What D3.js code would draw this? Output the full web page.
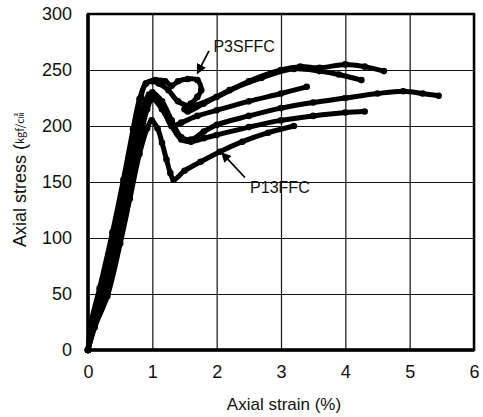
<!DOCTYPE html>
<html>
<head>
<meta charset="utf-8">
<script src="https://cdn.jsdelivr.net/npm/d3@7"></script>
<style>
  body { margin: 0; background: #fff; }
  svg { display: block; }
  text { font-family: "Liberation Sans", Arial, sans-serif; fill: #111; }
</style>
</head>
<body>
<svg id="chart" width="483" height="417"></svg>
<script>
// axis ticks
const strainTicks = [0, 1, 2, 3, 4, 5, 6];
const stressTicks = [0, 50, 100, 150, 200, 250, 300];

// curves (strain %, stress kgf/cm2)
const strainA = [0, 0.05, 0.18, 0.38, 0.55, 0.7, 0.8, 0.9, 1.0, 1.1, 1.25, 1.4, 1.6, 2.0, 2.5, 3.0, 3.3, 3.6, 4.0, 4.3, 4.6];
const stressA = [0, 25, 55, 105, 152, 197, 224, 238, 240, 238, 232, 222, 218, 226, 240, 250, 253, 252, 255, 253, 249];

const strainB = [0, 0.06, 0.22, 0.42, 0.58, 0.72, 0.82, 0.9, 1.05, 1.2, 1.3, 1.4, 1.55, 1.7, 1.76, 1.7, 1.6, 1.5, 1.55, 1.8, 2.2, 2.7, 3.2, 3.6, 3.9, 4.25];
const stressB = [0, 22, 50, 100, 148, 195, 225, 238, 241, 240, 236, 240, 242, 241, 232, 226, 220, 215, 213, 220, 232, 243, 251, 249, 246, 241];

const strainC = [0, 0.08, 0.25, 0.45, 0.6, 0.75, 0.85, 0.95, 1.1, 1.2, 1.3, 1.45, 1.7, 2.0, 2.5, 3.0, 3.4];
const stressC = [0, 22, 50, 100, 145, 190, 215, 228, 224, 212, 200, 203, 209, 214, 222, 229, 235];

const strainD = [0, 0.1, 0.28, 0.48, 0.63, 0.78, 0.9, 1.0, 1.15, 1.3, 1.45, 1.6, 1.8, 2.0, 2.5, 3.0, 3.5, 4.0, 4.5, 4.9, 5.2, 5.45];
const stressD = [0, 22, 50, 100, 145, 190, 220, 230, 222, 205, 190, 188, 195, 201, 209, 216, 221, 225, 229, 231, 229, 227];

const strainE = [0, 0.1, 0.3, 0.5, 0.65, 0.8, 0.92, 1.0, 1.15, 1.3, 1.45, 1.6, 1.8, 2.0, 2.5, 3.0, 3.5, 4.0, 4.3];
const stressE = [0, 20, 50, 100, 140, 185, 215, 224, 215, 200, 188, 186, 189, 192, 199, 205, 209, 212, 213];

// P13FFC
const strainF = [0, 0.1, 0.3, 0.5, 0.65, 0.8, 0.92, 0.99, 1.08, 1.15, 1.22, 1.28, 1.33, 1.5, 1.75, 2.05, 2.4, 2.8, 3.2];
const stressF = [0, 20, 48, 95, 135, 175, 198, 205, 198, 185, 170, 158, 152, 160, 168, 177, 186, 194, 200];

const series = [
  [strainA, stressA], [strainB, stressB], [strainC, stressC],
  [strainD, stressD], [strainE, stressE], [strainF, stressF]
];

// labels with arrows
const notes = [
  { label: "P3SFFC", tx: 1.95, ty: 266, from: [1.88, 267], to: [1.7, 247] },
  { label: "P13FFC", tx: 2.52, ty: 140, from: [2.44, 154], to: [2.08, 176] }
];

let svg = d3.select("#chart");
let margin = { left: 88, right: 9, top: 14, bottom: 67 };
let width = 483 - margin.left - margin.right;
let height = 417 - margin.top - margin.bottom;

let x = d3.scaleLinear().domain([0, 6]).range([margin.left, margin.left + width]);
let y = d3.scaleLinear().domain([0, 300]).range([margin.top + height, margin.top]);

// grid + tick labels
let xAxis = svg.append("g")
  .attr("transform", `translate(0,${margin.top + height})`)
  .call(d3.axisBottom(x).tickValues(strainTicks).tickSize(-height).tickPadding(15).tickFormat(d3.format("d")));
let yAxis = svg.append("g")
  .attr("transform", `translate(${margin.left},0)`)
  .call(d3.axisLeft(y).tickValues(stressTicks).tickSize(-width).tickPadding(16).tickFormat(d3.format("d")));

[xAxis, yAxis].forEach(a => {
  a.select(".domain").remove();
  a.selectAll("line").attr("stroke", "#111").attr("stroke-width", 1.2);
  a.selectAll("text").style("font-size", "18px").attr("fill", "#111");
});

// frame
svg.append("rect")
  .attr("x", margin.left).attr("y", margin.top)
  .attr("width", width).attr("height", height)
  .attr("fill", "none").attr("stroke", "#000").attr("stroke-width", 2.5);
svg.append("path")
  .attr("d", `M${margin.left},${margin.top}V${margin.top + height}H${margin.left + width}`)
  .attr("fill", "none").attr("stroke", "#000").attr("stroke-width", 3.5);

// curves
let line = d3.line()
  .x(d => x(d[0]))
  .y(d => y(d[1]))
  .curve(d3.curveCatmullRom.alpha(0.5));

series.forEach(s => {
  let pts = s[0].map((v, i) => [v, s[1][i]]);
  svg.append("path")
    .datum(pts)
    .attr("d", line)
    .attr("fill", "none")
    .attr("stroke", "#000")
    .attr("stroke-width", 5)
    .attr("stroke-linejoin", "round")
    .attr("stroke-linecap", "round");
  svg.selectAll(null)
    .data(pts)
    .enter()
    .append("circle")
    .attr("cx", d => x(d[0]))
    .attr("cy", d => y(d[1]))
    .attr("r", 3.3)
    .attr("fill", "#000");
});

// annotations
svg.append("defs").append("marker")
  .attr("id", "arrow")
  .attr("viewBox", "0 0 10 10")
  .attr("refX", 9).attr("refY", 5)
  .attr("markerWidth", 10).attr("markerHeight", 10)
  .attr("markerUnits", "userSpaceOnUse")
  .attr("orient", "auto")
  .append("path").attr("d", "M0,0L10,5L0,10Z").attr("fill", "#000");

notes.forEach(n => {
  svg.append("line")
    .attr("x1", x(n.from[0])).attr("y1", y(n.from[1]))
    .attr("x2", x(n.to[0])).attr("y2", y(n.to[1]))
    .attr("stroke", "#000").attr("stroke-width", 1.7)
    .attr("marker-end", "url(#arrow)");
  svg.append("text")
    .attr("x", x(n.tx)).attr("y", y(n.ty))
    .style("font-size", "16px")
    .text(n.label);
});

// axis titles
svg.append("text")
  .attr("x", 284)
  .attr("y", 410)
  .attr("text-anchor", "middle")
  .style("font-size", "17px")
  .text("Axial strain (%)");

let yt = svg.append("text")
  .attr("transform", "translate(26,180) rotate(-90)")
  .attr("text-anchor", "middle")
  .style("font-size", "18px");
yt.append("tspan").text("Axial stress (");
yt.append("tspan")
  .style("font-size", "11px")
  .style("font-family", "'Noto Sans CJK KR', sans-serif")
  .attr("dy", -2)
  .text("kgf/㎠");
</script>
</body>
</html>
